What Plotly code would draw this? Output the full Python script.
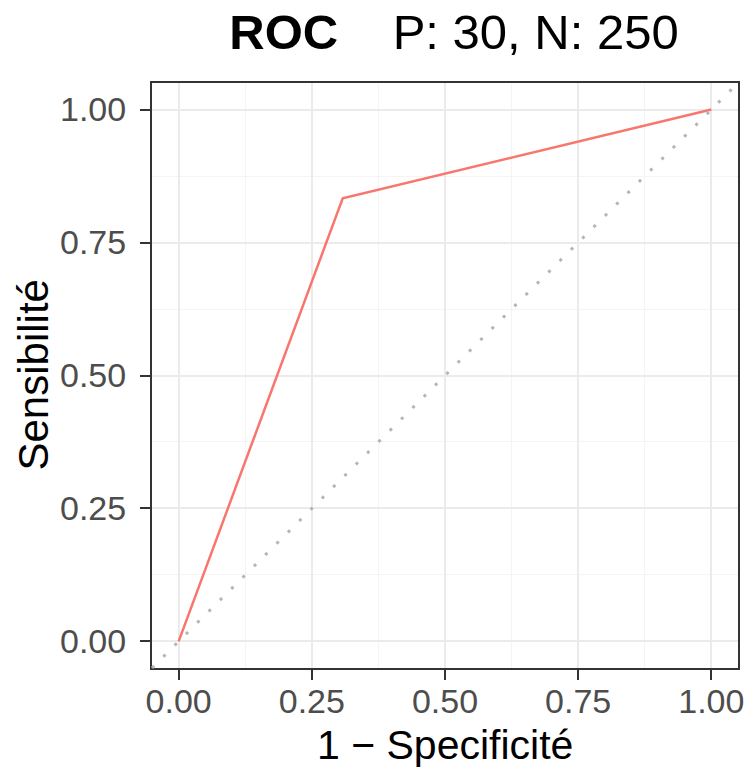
import plotly.graph_objects as go

# ROC curve points (false positive rate, true positive rate)
fpr = [0.0, 0.308, 1.0]
tpr = [0.0, 0.8333, 1.0]

tick_vals = [0.0, 0.25, 0.5, 0.75, 1.0]
tick_text = ["0.00", "0.25", "0.50", "0.75", "1.00"]

n_pos = 30
n_neg = 250

font_family = "Liberation Sans, Arial, Helvetica, sans-serif"

fig = go.Figure()

# chance diagonal drawn in axis-domain units (ranges are identical on both axes)
fig.add_shape(type="line", xref="x domain", yref="y domain",
              x0=0, y0=0, x1=1, y1=1,
              line=dict(color="#B5B5B5", width=3, dash="3px,13px"),
              layer="above")

fig.add_trace(go.Scatter(x=fpr, y=tpr, mode="lines",
                         line=dict(color="#F8766D", width=2.5),
                         showlegend=False, hoverinfo="skip"))

axis_common = dict(
    range=[-0.05, 1.05],
    tickvals=tick_vals,
    ticktext=tick_text,
    showgrid=True,
    gridcolor="#EBEBEB",
    gridwidth=1.8,
    minor=dict(tickvals=[0.125, 0.375, 0.625, 0.875], showgrid=True,
               gridcolor="#F4F4F4", gridwidth=1, ticks=""),
    zeroline=False,
    showline=True,
    linecolor="#333333",
    linewidth=2,
    mirror=True,
    ticks="outside",
    ticklen=10,
    tickwidth=2,
    tickcolor="#333333",
    automargin=False,
    ticklabeloverflow="allow",
    tickfont=dict(family=font_family, size=34, color="#4D4D4D"),
)

fig.update_xaxes(**axis_common, ticklabelstandoff=-8)
fig.update_yaxes(**axis_common, ticklabelstandoff=7)

title_font = dict(family=font_family, size=41, color="#000000")
fig.add_annotation(text="1 \u2212 Specificité", xref="paper", yref="paper",
                   x=0.5, y=0, xanchor="center", yanchor="top", yshift=-52,
                   showarrow=False, font=title_font)
fig.add_annotation(text="Sensibilité", xref="paper", yref="paper",
                   x=0, y=0.5, xanchor="center", yanchor="middle", xshift=-119,
                   textangle=-90, showarrow=False,
                   font=dict(family=font_family, size=42, color="#000000"))

title = "<b>ROC</b>" + "\u00a0" * 4 + "P: {}, N: {}".format(n_pos, n_neg)

fig.update_layout(
    width=750, height=769,
    margin=dict(l=152, r=12, t=83, b=101),
    paper_bgcolor="white",
    plot_bgcolor="white",
    title=dict(text=title, x=0.5 + 9 / 586, xref="paper", xanchor="center",
               y=1 - 32 / 769, yref="container", yanchor="middle",
               font=dict(family=font_family, size=49, color="#000000")),
)

# drop the default page margin so the figure sits at the window's corner
fig.write_html("out.html", config={"displayModeBar": False},
               post_script="document.body.style.margin='0';")
